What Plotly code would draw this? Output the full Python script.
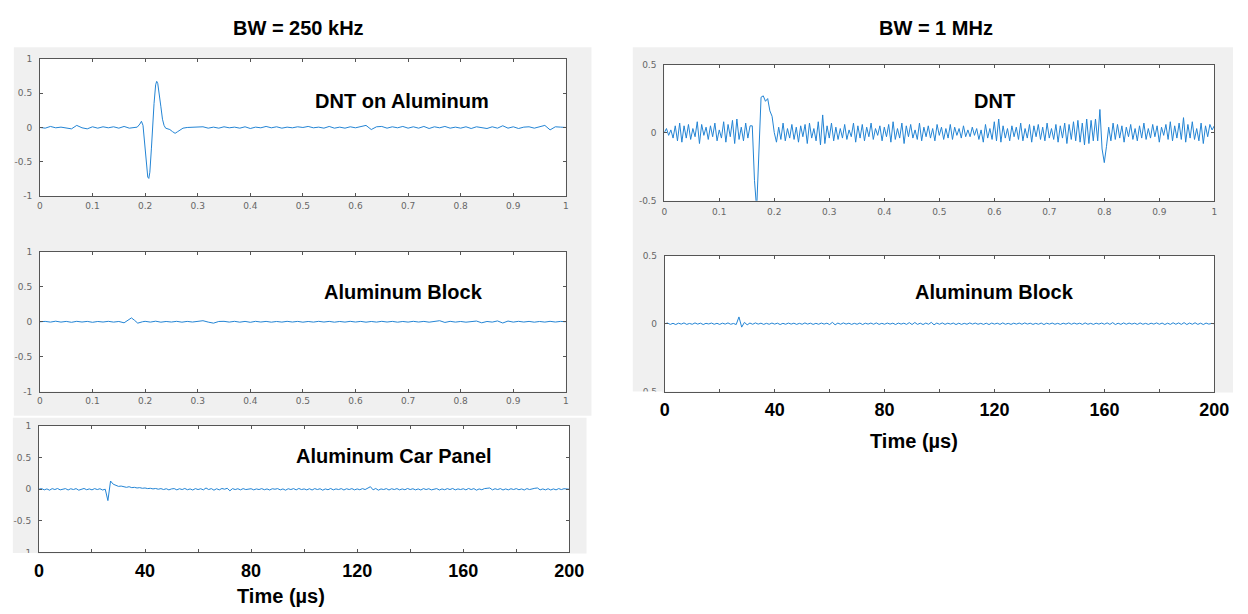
import numpy as np
import plotly.graph_objects as go

W, H = 1248, 614

# ---------------- data ----------------
# Panel 1: BW = 250 kHz, DNT on Aluminum (normalised time 0..1)
t_dnt_al = [0.00, 0.01, 0.02, 0.03, 0.04, 0.05, 0.06, 0.07, 0.08, 0.09,
            0.10, 0.11, 0.12, 0.13, 0.14, 0.15, 0.16, 0.17, 0.18, 0.185,
            0.19, 0.193, 0.196, 0.199, 0.202, 0.205, 0.207, 0.209, 0.212, 0.214,
            0.217, 0.220, 0.222, 0.224, 0.227, 0.230, 0.233, 0.236, 0.239, 0.243,
            0.247, 0.252, 0.257, 0.262, 0.267, 0.272, 0.28, 0.29, 0.30, 0.31,
            0.32, 0.33, 0.34, 0.35, 0.36, 0.37, 0.38, 0.39, 0.40, 0.41,
            0.42, 0.43, 0.44, 0.45, 0.46, 0.47, 0.48, 0.49, 0.50, 0.51,
            0.52, 0.53, 0.54, 0.55, 0.56, 0.57, 0.58, 0.59, 0.60, 0.61,
            0.62, 0.63, 0.64, 0.65, 0.66, 0.67, 0.68, 0.69, 0.70, 0.71,
            0.72, 0.73, 0.74, 0.75, 0.76, 0.77, 0.78, 0.79, 0.80, 0.81,
            0.82, 0.83, 0.84, 0.85, 0.86, 0.87, 0.88, 0.89, 0.90, 0.91,
            0.92, 0.93, 0.94, 0.95, 0.96, 0.97, 0.98, 0.99, 1.00]
y_dnt_al = [0.0, -0.01, 0.015, -0.005, 0.005, -0.01, -0.02, 0.03, -0.005, -0.02,
            0.01, -0.01, 0.01, -0.005, 0.01, -0.01, 0.015, -0.01, 0.0, 0.005,
            0.05, 0.09, 0.03, -0.2, -0.5, -0.72, -0.74, -0.65, -0.3, 0.0,
            0.35, 0.62, 0.67, 0.64, 0.5, 0.3, 0.12, 0.03, -0.01, -0.02,
            -0.03, -0.06, -0.085, -0.06, -0.03, -0.01, 0.0, 0.005, 0.0, 0.01,
            -0.01, 0.005, -0.01, 0.01, -0.005, 0.005, -0.01, 0.01, -0.015, 0.005,
            -0.005, 0.015, -0.005, 0.01, -0.01, 0.005, -0.005, 0.01, 0.0, 0.015,
            -0.005, 0.005, -0.01, 0.015, -0.01, 0.005, -0.01, 0.01, -0.005, 0.01,
            0.03, -0.03, 0.01, 0.015, -0.01, 0.01, -0.005, 0.015, -0.01, 0.01,
            -0.01, 0.015, -0.015, 0.01, -0.005, 0.015, -0.01, 0.005, -0.01, 0.01,
            -0.015, 0.01, -0.005, -0.015, 0.01, -0.01, 0.025, -0.01, 0.01, -0.015,
            0.005, 0.01, -0.01, 0.005, 0.03, -0.035, 0.01, 0.005, 0.0]

# Panel 2: BW = 250 kHz, Aluminum Block
t_blk_250 = [0.00, 0.01, 0.02, 0.03, 0.04, 0.05, 0.06, 0.07, 0.08, 0.09,
             0.10, 0.11, 0.12, 0.13, 0.14, 0.15, 0.16, 0.168, 0.174, 0.18,
             0.186, 0.195, 0.20, 0.21, 0.22, 0.23, 0.24, 0.25, 0.26, 0.27,
             0.28, 0.29, 0.30, 0.31, 0.32, 0.33, 0.34, 0.35, 0.36, 0.37,
             0.38, 0.39, 0.40, 0.41, 0.42, 0.43, 0.44, 0.45, 0.46, 0.47,
             0.48, 0.49, 0.50, 0.51, 0.52, 0.53, 0.54, 0.55, 0.56, 0.57,
             0.58, 0.59, 0.60, 0.61, 0.62, 0.63, 0.64, 0.65, 0.66, 0.67,
             0.68, 0.69, 0.70, 0.71, 0.72, 0.73, 0.74, 0.75, 0.76, 0.77,
             0.78, 0.79, 0.80, 0.81, 0.82, 0.83, 0.84, 0.85, 0.86, 0.87,
             0.88, 0.89, 0.90, 0.91, 0.92, 0.93, 0.94, 0.95, 0.96, 0.97,
             0.98, 0.99, 1.00]
y_blk_250 = [0.0, 0.005, -0.005, 0.008, -0.005, 0.005, -0.008, 0.006, -0.004, 0.005,
             -0.008, 0.004, -0.004, 0.006, -0.005, 0.004, -0.015, 0.02, 0.055, 0.02,
             -0.02, 0.0, 0.006, -0.005, 0.008, -0.006, 0.004, -0.004, 0.006, -0.006,
             0.005, -0.004, 0.004, 0.015, -0.005, -0.02, 0.004, 0.006, -0.005, 0.006,
             -0.006, 0.005, -0.008, 0.006, -0.004, 0.005, -0.006, 0.004, -0.005, 0.006,
             -0.004, 0.005, -0.006, 0.004, -0.005, 0.006, -0.004, 0.005, -0.006, 0.004,
             -0.005, 0.006, -0.004, 0.005, -0.006, 0.004, -0.005, 0.006, -0.004, 0.005,
             -0.006, 0.004, -0.005, 0.006, -0.004, 0.005, -0.006, 0.004, 0.015, -0.01,
             0.006, -0.005, 0.004, -0.006, 0.005, 0.01, -0.015, 0.004, -0.005, 0.012,
             -0.018, 0.01, -0.005, 0.006, -0.004, 0.005, -0.006, 0.004, -0.005, 0.006,
             -0.004, 0.005, 0.0]

# Panel 3: BW = 250 kHz, Aluminum Car Panel (time in us, 1 us sampling, 0..200)
y_car = [0.0, 0.01, -0.01, 0.005, -0.015, 0.01, -0.005, 0.012, -0.01, 0.0,
         0.01, -0.012, 0.008, -0.005, 0.01, -0.015, 0.005, 0.012, -0.008, 0.005,
         -0.01, 0.01, -0.005, 0.008, -0.012, 0.0, -0.18, 0.13, 0.08, 0.06,
         0.045, 0.05, 0.035, 0.03, 0.04, 0.025, 0.03, 0.02, 0.025, 0.015,
         0.02, 0.01, 0.015, 0.005, 0.012, 0.0, 0.01, -0.005, 0.008, -0.01,
         0.005, 0.01, -0.01, 0.008, -0.005, 0.012, -0.008, 0.005, -0.012, 0.01,
         -0.005, 0.008, -0.01, 0.02, -0.005, 0.01, -0.015, 0.008, -0.01, 0.012,
         0.0, 0.015, -0.025, 0.01, -0.005, 0.008, -0.01, 0.01, -0.005, 0.005,
         0.008, -0.01, 0.005, -0.005, 0.01, -0.008, 0.005, -0.012, 0.008, 0.0,
         0.01, -0.01, 0.005, -0.015, 0.008, -0.005, 0.01, -0.01, 0.012, -0.005,
         0.005, -0.01, 0.008, -0.012, 0.01, -0.005, 0.008, -0.015, 0.005, -0.008,
         0.012, -0.01, 0.005, -0.005, 0.01, -0.012, 0.008, -0.005, 0.01, -0.01,
         0.005, -0.008, 0.01, -0.005, 0.015, 0.04, -0.01, 0.012, -0.015, 0.005,
         -0.005, 0.01, -0.012, 0.008, -0.005, 0.01, -0.01, 0.005, -0.008, 0.012,
         -0.005, 0.008, -0.01, 0.005, -0.012, 0.01, -0.005, 0.008, -0.01, 0.005,
         0.01, -0.012, 0.005, -0.008, 0.01, -0.005, 0.012, -0.01, 0.005, -0.005,
         0.008, -0.01, 0.012, -0.005, 0.01, -0.015, 0.005, -0.008, 0.01, 0.015,
         0.02, -0.01, 0.008, -0.005, 0.01, -0.012, 0.005, -0.01, 0.008, -0.005,
         0.01, -0.008, 0.005, -0.012, 0.01, -0.005, 0.008, 0.015, 0.02, -0.01,
         0.005, -0.01, 0.008, -0.012, 0.005, -0.01, 0.01, -0.005, 0.008, 0.0,
         0.0]

# Panel 4: BW = 1 MHz, DNT (normalised time 0..1)
y_dnt_1m = [0.0, 0.03, -0.02, 0.02, -0.04, 0.05, -0.06, 0.07, -0.07, 0.05,
            -0.04, 0.06, -0.05, 0.03, -0.03, 0.08, -0.08, 0.06, -0.02, 0.04,
            -0.05, 0.05, -0.03, 0.07, -0.06, 0.02, -0.04, 0.08, -0.07, 0.06,
            -0.03, 0.09, -0.08, 0.10, -0.05, 0.04, -0.06, 0.07, -0.04, 0.05,
            0.05, -0.35, -0.56, -0.15, 0.26, 0.27, 0.23, 0.25, 0.16, 0.12,
            0.0, -0.07, 0.04, -0.05, 0.07, -0.06, 0.03, -0.04, 0.06, -0.05,
            0.04, -0.07, 0.05, -0.03, 0.06, -0.08, 0.07, -0.04, 0.03, -0.06,
            0.08, -0.09, 0.13, -0.08, 0.05, -0.04, 0.07, -0.06, 0.04, -0.05,
            0.03, -0.04, 0.06, -0.05, 0.02, -0.03, 0.07, -0.07, 0.05, -0.04,
            0.06, -0.06, 0.04, -0.03, 0.07, -0.05, 0.03, -0.02, 0.05, -0.06,
            0.04, -0.03, 0.06, -0.07, 0.08, -0.05, 0.03, -0.04, 0.07, -0.08,
            0.05, -0.03, 0.06, -0.04, 0.02, -0.05, 0.07, -0.06, 0.04, -0.03,
            0.05, -0.04, 0.03, -0.06, 0.06, -0.02, 0.04, -0.05, 0.03, -0.04,
            0.06, -0.05, 0.04, -0.02, 0.03, -0.04, 0.05, -0.03, 0.02, -0.03,
            0.04, -0.02, 0.03, -0.05, 0.02, -0.07, 0.06, -0.04, 0.03, -0.05,
            0.08, -0.06, 0.10, -0.07, 0.05, -0.04, 0.03, -0.06, 0.05, -0.03,
            0.04, -0.05, 0.07, -0.06, 0.03, -0.04, 0.06, -0.07, 0.05, -0.03,
            0.06, -0.05, 0.04, -0.06, 0.07, -0.04, 0.03, -0.05, 0.06, -0.07,
            0.05, -0.04, 0.07, -0.08, 0.06, -0.05, 0.08, -0.06, 0.09, -0.07,
            0.07, -0.09, 0.10, -0.08, 0.09, -0.06, 0.10, -0.06, 0.17, -0.12,
            -0.22, -0.10, 0.04, -0.06, 0.07, -0.05, 0.06, -0.04, 0.05, -0.07,
            0.04, -0.03, 0.06, -0.05, 0.03, -0.06, 0.05, -0.04, 0.07, -0.05,
            0.03, -0.04, 0.06, -0.03, 0.05, -0.07, 0.04, -0.02, 0.06, -0.05,
            0.08, -0.06, 0.05, -0.04, 0.07, -0.05, 0.11, -0.07, 0.06, -0.04,
            0.08, -0.05, 0.03, -0.06, 0.07, -0.08, 0.05, -0.03, 0.06, 0.02,
            0.05]

# Panel 5: BW = 1 MHz, Aluminum Block (time in us, 1 us sampling, 0..200)
y_blk_1m = [0.0, 0.005, -0.005, 0.003, -0.006, 0.004, -0.003, 0.006, -0.005, 0.002,
            -0.004, 0.006, -0.003, 0.004, -0.006, 0.003, -0.002, 0.005, -0.004, 0.003,
            -0.005, 0.004, -0.003, 0.006, -0.004, 0.002, -0.006, 0.05, -0.025, 0.01,
            -0.008, 0.005, -0.004, 0.006, -0.003, 0.004, -0.005, 0.003, -0.004, 0.005,
            -0.003, 0.004, -0.006, 0.003, -0.004, 0.005, -0.003, 0.004, -0.005, 0.003,
            -0.004, 0.006, -0.003, 0.004, -0.005, 0.003, -0.004, 0.005, -0.003, 0.004,
            -0.006, 0.01, -0.008, 0.005, -0.004, 0.006, -0.003, 0.004, -0.005, 0.003,
            -0.004, 0.005, -0.006, 0.004, -0.003, 0.005, -0.004, 0.006, -0.005, 0.003,
            -0.004, 0.005, -0.003, 0.004, -0.006, 0.005, -0.003, 0.004, -0.005, 0.008,
            -0.006, 0.009, -0.005, 0.004, -0.006, 0.005, -0.004, 0.01, -0.008, 0.005,
            -0.004, 0.006, -0.005, 0.004, -0.003, 0.005, -0.006, 0.004, -0.005, 0.003,
            -0.004, 0.006, -0.003, 0.005, -0.004, 0.003, -0.005, 0.004, -0.006, 0.005,
            -0.003, 0.004, -0.005, 0.006, -0.004, 0.003, -0.005, 0.004, -0.003, 0.005,
            -0.004, 0.006, -0.003, 0.004, -0.005, 0.003, -0.004, 0.005, -0.006, 0.004,
            -0.003, 0.005, -0.004, 0.003, -0.005, 0.004, -0.003, 0.006, -0.004, 0.005,
            -0.003, 0.004, -0.005, 0.006, -0.004, 0.003, -0.005, 0.004, -0.003, 0.005,
            -0.004, 0.006, -0.005, 0.008, -0.006, 0.004, -0.005, 0.006, -0.004, 0.005,
            -0.003, 0.004, -0.005, 0.006, -0.004, 0.003, -0.005, 0.004, -0.003, 0.006,
            -0.004, 0.005, -0.006, 0.004, -0.005, 0.007, -0.004, 0.006, -0.005, 0.008,
            -0.006, 0.005, -0.004, 0.007, -0.005, 0.004, -0.006, 0.005, -0.003, 0.002,
            0.0]

t_car = np.linspace(0, 200, len(y_car))
t_dnt_1m = np.linspace(0, 1, len(y_dnt_1m))
t_blk_1m = np.linspace(0, 200, len(y_blk_1m))

norm_ticks = [0, 0.1, 0.2, 0.3, 0.4, 0.5, 0.6, 0.7, 0.8, 0.9, 1]
norm_labels = ["0", "0.1", "0.2", "0.3", "0.4", "0.5", "0.6", "0.7", "0.8", "0.9", "1"]
us_ticks = [0, 20, 40, 60, 80, 100, 120, 140, 160, 180, 200]
us_labels = ["0", "", "40", "", "80", "", "120", "", "160", "", "200"]
amp1_ticks = [-1, -0.5, 0, 0.5, 1]
amp1_labels = ["-1", "-0.5", "0", "0.5", "1"]
amp05_ticks = [-0.5, 0, 0.5]
amp05_labels = ["-0.5", "0", "0.5"]

titles = ["BW = 250 kHz", "BW = 1 MHz"]
panel_labels = ["DNT on Aluminum", "Aluminum Block", "Aluminum Car Panel", "DNT", "Aluminum Block"]
xlabel = "Time (µs)"

# ---------------- styling ----------------
LINE = "#2384d4"
AXC = "#555555"
TICKC = "#666666"
GRAY = "#f0f0f0"
SMALL = dict(family="DejaVu Sans, Liberation Sans, Arial", size=9, color=TICKC)
BOLDTICK = dict(family="Liberation Sans, Arial", size=18, color="black", weight="bold")


def px(x):
    return x / W


def py(y):
    return 1 - y / H


# plot areas in pixels: (left, right, top, bottom)
boxes = [
    (35.5, 570.0, 54.5, 194.5),
    (35.5, 570.0, 251.0, 393.0),
    (34.5, 573.5, 428.0, 556.5),
    (670.0, 1229.0, 60.5, 199.0),
    (670.5, 1229.0, 255.0, 393.0),
]

fig = go.Figure()
series = [
    (t_dnt_al, y_dnt_al),
    (t_blk_250, y_blk_250),
    (t_car, y_car),
    (t_dnt_1m, y_dnt_1m),
    (t_blk_1m, y_blk_1m),
]
for i, (tx, ty) in enumerate(series):
    sfx = "" if i == 0 else str(i + 1)
    fig.add_trace(go.Scatter(x=tx, y=ty, mode="lines",
                             line=dict(color=LINE, width=1),
                             xaxis="x" + sfx, yaxis="y" + sfx,
                             showlegend=False, hoverinfo="skip"))

xcfg = [
    dict(range=[0, 1], tickvals=norm_ticks, ticktext=norm_labels, tickfont=SMALL, ticklabelstandoff=1),
    dict(range=[0, 1], tickvals=norm_ticks, ticktext=norm_labels, tickfont=SMALL, ticklabelstandoff=1),
    dict(range=[0, 200], tickvals=us_ticks, ticktext=us_labels, tickfont=BOLDTICK, ticklabelstandoff=2),
    dict(range=[0, 1], tickvals=norm_ticks, ticktext=norm_labels, tickfont=SMALL, ticklabelstandoff=2),
    dict(range=[0, 200], tickvals=us_ticks, ticktext=us_labels, tickfont=BOLDTICK, ticklabelstandoff=2),
]
ycfg = [
    dict(range=[-1, 1], tickvals=amp1_ticks, ticktext=amp1_labels),
    dict(range=[-1, 1], tickvals=amp1_ticks, ticktext=amp1_labels),
    dict(range=[-1, 1], tickvals=amp1_ticks, ticktext=amp1_labels),
    dict(range=[-0.5, 0.5], tickvals=amp05_ticks, ticktext=amp05_labels),
    dict(range=[-0.5, 0.5], tickvals=amp05_ticks, ticktext=amp05_labels),
]

common = dict(showline=True, linecolor=AXC, linewidth=1, mirror="ticks",
              ticks="inside", ticklen=3, tickcolor=AXC, tickwidth=1,
              showgrid=False, zeroline=False, fixedrange=True)

layout = {}
for i, (l, r, t, b) in enumerate(boxes):
    sfx = "" if i == 0 else str(i + 1)
    xa = dict(common)
    xa.update(xcfg[i])
    xa.update(domain=[px(l), px(r)], anchor="y" + sfx, tickmode="array")
    ya = dict(common)
    ya.update(ycfg[i])
    ya.update(domain=[py(b), py(t)], anchor="x" + sfx, tickmode="array",
              tickfont=SMALL, ticklabelstandoff=5)
    layout["xaxis" + sfx] = xa
    layout["yaxis" + sfx] = ya

shapes = [
    # grey figure backgrounds (MATLAB figure windows)
    dict(type="rect", xref="paper", yref="paper", x0=px(9), x1=px(596), y0=py(417.5), y1=py(43),
         fillcolor=GRAY, line=dict(width=0), layer="below"),
    dict(type="rect", xref="paper", yref="paper", x0=px(8), x1=px(591), y0=py(557.5), y1=py(419.5),
         fillcolor=GRAY, line=dict(width=0), layer="below"),
    dict(type="rect", xref="paper", yref="paper", x0=px(638), x1=px(1248), y0=py(394), y1=py(43),
         fillcolor=GRAY, line=dict(width=0), layer="below"),
]
# white axes backgrounds
for (l, r, t, b) in boxes:
    shapes.append(dict(type="rect", xref="paper", yref="paper", x0=px(l), x1=px(r), y0=py(b), y1=py(t),
                       fillcolor="white", line=dict(width=0), layer="below"))
# cropped screenshot edges hiding the lower half of the bottom tick label
shapes += [
    dict(type="rect", xref="paper", yref="paper", x0=px(0), x1=px(33), y0=py(566), y1=py(557),
         fillcolor="white", line=dict(width=0), layer="above"),
    dict(type="rect", xref="paper", yref="paper", x0=px(630), x1=px(668), y0=py(404), y1=py(393),
         fillcolor="white", line=dict(width=0), layer="above"),
]

BOLD = dict(family="Liberation Sans, Arial", color="black", weight="bold")
ann = []
for txt, x, y, s in [
    (titles[0], 298, 23, 20),
    (titles[1], 946, 23, 20),
    (panel_labels[0], 403, 98, 20),
    (panel_labels[1], 405, 292, 20),
    (panel_labels[2], 395, 458, 20),
    (panel_labels[3], 1006, 98, 20),
    (panel_labels[4], 1006, 292, 20),
    (xlabel, 281, 601, 20),
    (xlabel, 924, 443, 20),
]:
    f = dict(BOLD)
    f["size"] = s
    ann.append(dict(text=txt, x=px(x), y=py(y), xref="paper", yref="paper",
                    xanchor="center", yanchor="middle", showarrow=False, font=f))

fig.update_layout(width=W, height=H, autosize=False,
                  margin=dict(l=0, r=0, t=0, b=0, pad=0),
                  paper_bgcolor="white", plot_bgcolor="white",
                  shapes=shapes, annotations=ann, showlegend=False, **layout)

fig.write_html("out.html", config={"displayModeBar": False})
